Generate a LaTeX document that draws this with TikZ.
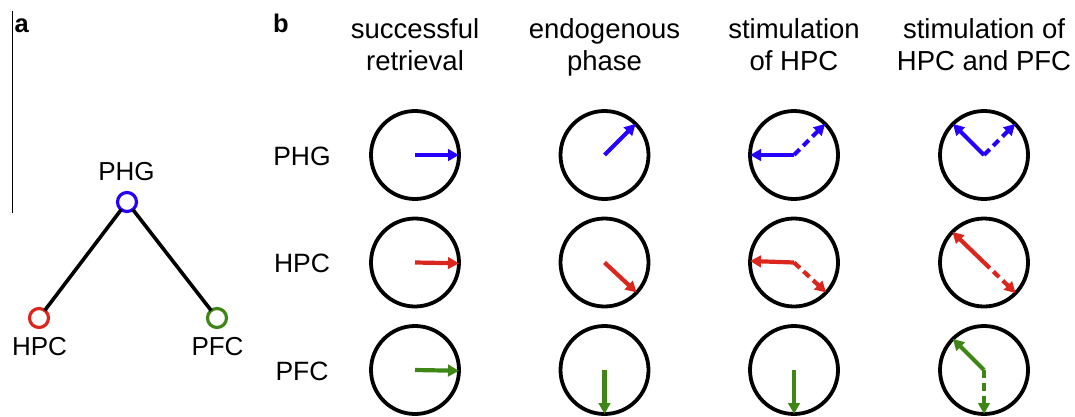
\documentclass[tikz,border=0pt]{standalone}
\usepackage{fontspec}
\setmainfont{Liberation Sans}
\usetikzlibrary{arrows.meta}

\definecolor{phgblue}{RGB}{38,0,255}
\definecolor{hpcred}{RGB}{218,38,28}
\definecolor{pfcgreen}{RGB}{62,134,22}

\tikzset{
  ring/.style={circle,draw=black,line width=3.8pt,minimum size=88pt,inner sep=0pt,outer sep=0pt},
  region/.style={circle,draw,line width=3.2pt,minimum size=19pt,inner sep=0pt,outer sep=0pt},
  vec/.style={line width=4.2pt,-{Triangle[length=11pt,width=11.5pt]}},
  vecd/.style={vec,dash pattern=on 8pt off 5pt},
  head/.style={font=\fontsize{27.5}{32}\selectfont,align=center,anchor=north,inner sep=0pt},
  lab/.style={font=\fontsize{26.5}{32}\selectfont,anchor=base,inner sep=0pt},
  alab/.style={font=\fontsize{26}{30}\selectfont,anchor=base,inner sep=0pt},
  panel/.style={font=\fontsize{25.5}{30}\bfseries\selectfont,anchor=base west,inner sep=0pt},
  link/.style={line width=3.6pt,draw=black},
}

\begin{document}
\begin{tikzpicture}[x=1pt,y=-1pt]
\useasboundingbox (0,0) rectangle (1075,416);

% ---------- panel a: network ----------
\node[panel] (pa) at (14.5,32) {a};
\coordinate (divtop) at (12.5,11);
\coordinate (divbot) at (12.5,213);
\draw[line width=1.3pt] (divtop) -- (divbot);

\node[region,draw=phgblue]  (aPHG) at (127,202) {};
\node[region,draw=hpcred]   (aHPC) at (39,318) {};
\node[region,draw=pfcgreen] (aPFC) at (217,318) {};
\draw[link] (aPHG) -- (aHPC);
\draw[link] (aPHG) -- (aPFC);

\node[alab] (tPHG) at (126.5,180) {PHG};
\node[alab] (tHPC) at (39.5,355) {HPC};
\node[alab] (tPFC) at (217.5,355) {PFC};

% ---------- panel b: phase diagrams ----------
\node[panel] (pb) at (273,32) {b};

\node[head] (h1) at (415,18)  {successful\\retrieval};
\node[head] (h2) at (604.5,18) {endogenous\\phase};
\node[head] (h3) at (794,18)  {stimulation\\of HPC};
\node[head] (h4) at (984,18)  {stimulation of\\HPC and PFC};

\node[lab] (rPHG) at (302,165) {PHG};
\node[lab] (rHPC) at (302,272) {HPC};
\node[lab] (rPFC) at (302,380) {PFC};

% circles: rows PHG / HPC / PFC, columns 1..4
\foreach \c/\x in {1/415,2/604.5,3/794,4/984}{
  \node[ring] (g\c) at (\x,155) {};
  \node[ring] (m\c) at (\x,262.5) {};
  \node[ring] (p\c) at (\x,370) {};
}

% successful retrieval
\draw[vec,phgblue]  (g1.center) -- (g1.0);
\draw[vec,hpcred]   (m1.center) -- (m1.-1);
\draw[vec,pfcgreen] (p1.center) -- (p1.-1.5);

% endogenous phase
\draw[vec,phgblue]  (g2.center) -- (g2.45);
\draw[vec,hpcred]   (m2.center) -- (m2.-43);
\draw[vec,pfcgreen] (p2.center) -- (p2.-90);

% stimulation of HPC
\draw[vec,phgblue]   (g3.center) -- (g3.180);
\draw[vecd,phgblue]  (g3.center) -- (g3.45);
\draw[vec,hpcred]    (m3.center) -- (m3.178);
\draw[vecd,hpcred]   (m3.center) -- (m3.-43);
\draw[vec,pfcgreen]  (p3.center) -- (p3.-90);

% stimulation of HPC and PFC
\draw[vec,phgblue]   (g4.center) -- (g4.135);
\draw[vecd,phgblue]  (g4.center) -- (g4.45);
\draw[vec,hpcred]    (m4.center) -- (m4.136);
\draw[vecd,hpcred]   (m4.center) -- (m4.-44);
\draw[vec,pfcgreen]  (p4.center) -- (p4.135);
\draw[vecd,pfcgreen] (p4.center) -- (p4.-90);
\end{tikzpicture}
\end{document}
